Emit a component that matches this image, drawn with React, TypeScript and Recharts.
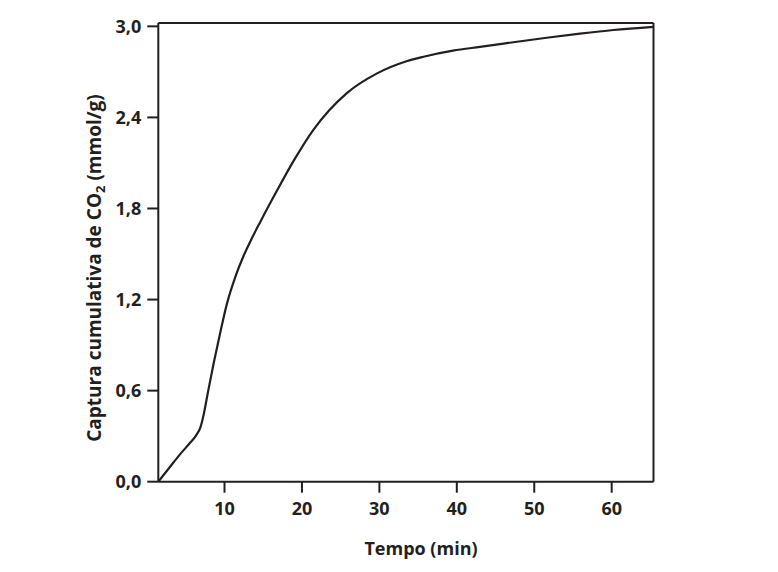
import React from "react";
import { LineChart, Line, XAxis, YAxis, ReferenceLine } from "recharts";

const timeMin = [1.45, 3, 4.25, 5.5, 6.4, 6.9, 7.3, 7.9, 8.6, 9.4, 10.3, 11.4, 12.4, 13.5, 14.6, 16.8, 19.0, 21.5, 23.5, 25.8, 29.7, 33.5, 35.7, 39.5, 43, 47.3, 51.6, 55.9, 60.2, 65.4];
const captura = [0, 0.1, 0.18, 0.253, 0.31, 0.36, 0.44, 0.6, 0.78, 0.97, 1.17, 1.35, 1.48, 1.6, 1.71, 1.92, 2.12, 2.32, 2.445, 2.56, 2.69, 2.77, 2.8, 2.84, 2.865, 2.895, 2.925, 2.952, 2.976, 2.997];
const xTicks = [10, 20, 30, 40, 50, 60];
const yTicks = [0, 0.6, 1.2, 1.8, 2.4, 3.0];
const xDomain = [1.45, 65.4];
const yDomain = [0, 3.022];

const data = timeMin.map((t, i) => ({ t, v: captura[i] }));

const INK = "#231f20";
const FONT = "'Open Sans', sans-serif";

const XLabel = () => (
  <text x={413} y={547} textAnchor="middle" fill={INK} fontFamily={FONT} fontWeight={700} fontSize={18}>
    Tempo (min)
  </text>
);

const YLabel = () => (
  <text
    x={93}
    y={260}
    transform="rotate(-90 93 260)"
    textAnchor="middle"
    fill={INK}
    fontFamily={FONT}
    fontWeight={700}
    fontSize={19}
  >
    Captura cumulativa de CO
    <tspan fontSize={13} dy={4}>2</tspan>
    <tspan dy={-4}> (mmol/g)</tspan>
  </text>
);

export default function App() {
  return (
    <LineChart
      width={770}
      height={564}
      data={data}
      margin={{ top: 15, right: 124.5, bottom: 30.3, left: 90.3 }}
    >
      <XAxis
        dataKey="t"
        type="number"
        domain={xDomain}
        ticks={xTicks}
        allowDataOverflow
        height={60}
        tickSize={11}
        tickMargin={10}
        stroke={INK}
        strokeWidth={2}
        tick={{ fill: INK, fontFamily: FONT, fontWeight: 700, fontSize: 18 }}
        label={XLabel}
      />
      <YAxis
        type="number"
        domain={yDomain}
        ticks={yTicks}
        allowDataOverflow
        width={60}
        tickSize={11}
        tickMargin={6}
        stroke={INK}
        strokeWidth={2}
        tickFormatter={(v: number) => v.toFixed(1).replace(".", ",")}
        tick={{ fill: INK, fontFamily: FONT, fontWeight: 700, fontSize: 18 }}
        label={YLabel}
      />
      <ReferenceLine y={yDomain[1]} stroke={INK} strokeWidth={2} />
      <ReferenceLine x={xDomain[1]} stroke={INK} strokeWidth={2} />
      <Line
        type="monotone"
        dataKey="v"
        stroke={INK}
        strokeWidth={2.2}
        dot={false}
        isAnimationActive={false}
      />
    </LineChart>
  );
}
